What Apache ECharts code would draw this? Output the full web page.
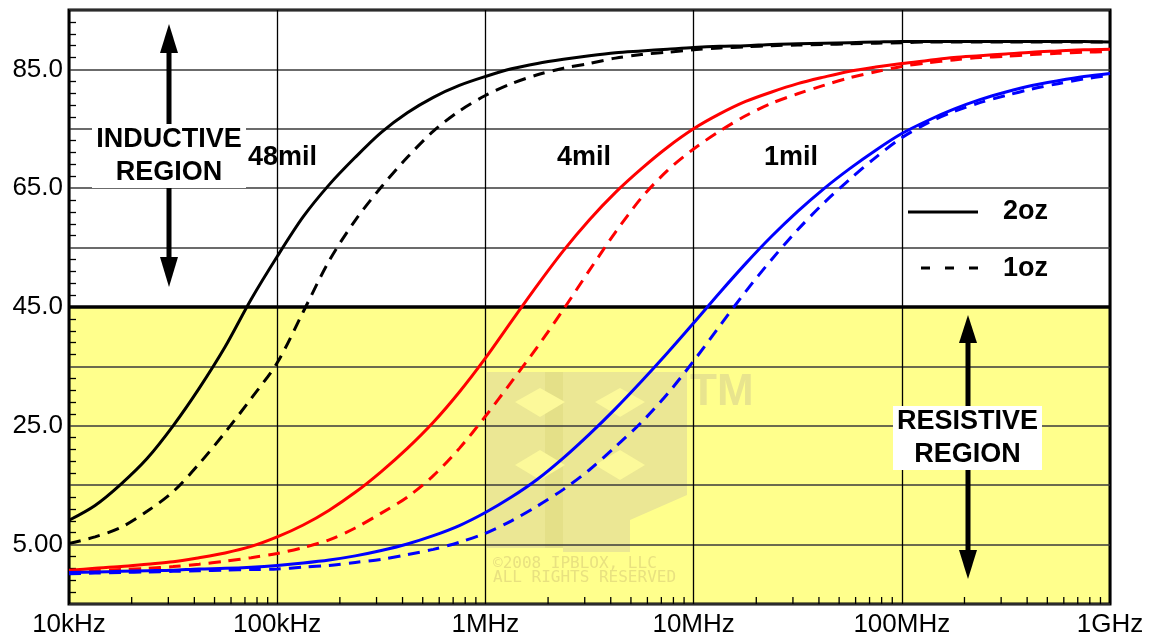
<!DOCTYPE html>
<html>
<head>
<meta charset="utf-8">
<script src="https://cdn.jsdelivr.net/npm/echarts@6/dist/echarts.min.js"></script>
<style>
  html, body { margin: 0; padding: 0; background: #fff; }
  #chart { width: 1156px; height: 640px; }
</style>
</head>
<body>
<div id="chart"></div>
<script>
// Frequency grid (Hz), eighth-decade steps, shared by every curve
const freqs = [
    1e4, 1.334e4, 1.778e4, 2.371e4, 3.162e4, 4.217e4, 5.623e4, 7.499e4,
    1e5, 1.334e5, 1.778e5, 2.371e5, 3.162e5, 4.217e5, 5.623e5, 7.499e5,
    1e6, 1.334e6, 1.778e6, 2.371e6, 3.162e6, 4.217e6, 5.623e6, 7.499e6,
    1e7, 1.334e7, 1.778e7, 2.371e7, 3.162e7, 4.217e7, 5.623e7, 7.499e7,
    1e8, 1.334e8, 1.778e8, 2.371e8, 3.162e8, 4.217e8, 5.623e8, 7.499e8,
    1e9
];

// Phase angle (deg)
const mil48_2oz = [9.1, 11.6, 15.2, 19.5, 25.0, 31.3, 38.3, 46.3,
                   53.5, 60.2, 65.6, 70.2, 74.4, 77.7, 80.3, 82.3,
                   83.8, 85.1, 86.0, 86.7, 87.3, 87.8, 88.1, 88.4,
                   88.7, 88.9, 89.0, 89.2, 89.3, 89.4, 89.5, 89.6,
                   89.7, 89.7, 89.7, 89.7, 89.7, 89.7, 89.7, 89.7,
                   89.6];
const mil48_1oz = [5.2, 6.3, 7.9, 10.6, 13.9, 18.6, 23.9, 29.6,
                   35.6, 44.2, 52.8, 59.6, 65.2, 70.2, 74.6, 78.0,
                   80.6, 82.6, 84.1, 85.2, 86.0, 86.9, 87.5, 87.9,
                   88.3, 88.6, 88.8, 89.0, 89.1, 89.2, 89.3, 89.4,
                   89.5, 89.6, 89.6, 89.6, 89.6, 89.6, 89.6, 89.6,
                   89.6];
const mil4_2oz = [0.7, 1.0, 1.3, 1.7, 2.1, 2.8, 3.6, 4.7,
                  6.3, 8.3, 10.8, 13.8, 17.3, 21.2, 25.6, 30.7,
                  36.4, 42.6, 48.7, 54.5, 59.7, 64.3, 68.3, 71.9,
                  75.0, 77.5, 79.6, 81.2, 82.6, 83.7, 84.7, 85.4,
                  86.0, 86.5, 87.0, 87.3, 87.6, 87.9, 88.1, 88.3,
                  88.4];
const mil4_1oz = [0.5, 0.6, 0.8, 1.0, 1.3, 1.7, 2.2, 2.8,
                  3.5, 4.5, 5.8, 7.8, 10.3, 13.0, 16.6, 21.2,
                  26.6, 32.4, 38.3, 44.6, 51.2, 57.6, 63.4, 68.0,
                  71.6, 74.6, 77.2, 79.3, 80.9, 82.3, 83.6, 84.6,
                  85.5, 86.1, 86.6, 87.0, 87.2, 87.5, 87.7, 87.9,
                  88.0];
const mil1_2oz = [0.3, 0.4, 0.5, 0.6, 0.7, 0.9, 1.0, 1.2,
                  1.5, 1.9, 2.4, 3.1, 4.0, 5.1, 6.5, 8.2,
                  10.4, 13.0, 16.0, 19.6, 23.6, 27.9, 32.5, 37.3,
                  42.3, 47.4, 52.3, 56.9, 61.1, 64.9, 68.3, 71.4,
                  74.2, 76.4, 78.3, 79.9, 81.2, 82.3, 83.1, 83.8,
                  84.3];
const mil1_1oz = [0.1, 0.2, 0.3, 0.4, 0.5, 0.6, 0.7, 0.8,
                  0.9, 1.2, 1.5, 2.0, 2.5, 3.3, 4.2, 5.4,
                  6.9, 9.0, 11.5, 14.3, 17.6, 21.5, 25.6, 30.4,
                  35.9, 41.8, 47.6, 53.0, 58.0, 62.5, 66.5, 70.2,
                  73.5, 76.0, 77.9, 79.4, 80.6, 81.7, 82.6, 83.4,
                  84.0];

// Axis labels
const xTickLabels = ['10kHz', '100kHz', '1MHz', '10MHz', '100MHz', '1GHz'];
const yTickValues = [5, 25, 45, 65, 85];
const yTickLabels = ['5.00', '25.0', '45.0', '65.0', '85.0'];

// minor log ticks along the bottom edge (2..9 in each decade)
const xMinorTicks = [];
for (let d = 4; d < 9; d++) {
    for (let m = 2; m <= 9; m++) xMinorTicks.push(m * Math.pow(10, d));
}

const Y_MIN = -5, Y_MAX = 95;
const FONT = '"Liberation Sans", Arial, sans-serif';

function pairs(values) {
    return freqs.map((f, i) => [f, values[i]]);
}

function curve(name, values, color, dashed) {
    return {
        name: name,
        type: 'line',
        data: pairs(values),
        showSymbol: false,
        smooth: 0.3,
        z: 5,
        lineStyle: { color: color, width: 3, type: dashed ? [12, 8] : 'solid' },
        silent: true
    };
}

// faint IPBLOX watermark + annotation graphics
const boldText = 'bold 27px ' + FONT;
const wmMain = '#ebe794', wmSide = '#e4e088', wmLight = '#fcf99a';
const graphics = [
    // watermark logo
    { type: 'rect', z: 2, shape: { x: 487, y: 372, width: 58, height: 176 }, style: { fill: wmMain } },
    { type: 'rect', z: 2, shape: { x: 545, y: 372, width: 18, height: 176 }, style: { fill: wmSide } },
    { type: 'polygon', z: 2, shape: { points: [[563, 372], [687, 372], [687, 495], [630, 520], [630, 552], [563, 552]] }, style: { fill: wmMain } },
    { type: 'polygon', z: 2, shape: { points: [[515, 402], [540, 388], [565, 402], [540, 417]] }, style: { fill: wmLight } },
    { type: 'polygon', z: 2, shape: { points: [[595, 402], [620, 388], [645, 402], [620, 417]] }, style: { fill: wmLight } },
    { type: 'polygon', z: 2, shape: { points: [[515, 465], [540, 450], [565, 465], [540, 480]] }, style: { fill: wmLight } },
    { type: 'polygon', z: 2, shape: { points: [[595, 465], [620, 450], [645, 465], [620, 480]] }, style: { fill: wmLight } },
    { type: 'text', z: 2, x: 690, y: 393, style: { text: 'TM', font: 'bold 44px ' + FONT, fill: '#e8e48e', verticalAlign: 'middle' } },
    { type: 'text', z: 2, x: 493, y: 571, style: { text: '\u00a92008 IPBLOX, LLC\nALL RIGHTS RESERVED', font: '16px "DejaVu Sans Mono", monospace', lineHeight: 14, fill: '#e8e180', verticalAlign: 'middle' } },

    // inductive region arrow + label
    { type: 'line', z: 10, shape: { x1: 169, y1: 50, x2: 169, y2: 260 }, style: { stroke: '#000', lineWidth: 5 } },
    { type: 'polygon', z: 10, shape: { points: [[160, 53], [178, 53], [169, 24]] }, style: { fill: '#000' } },
    { type: 'polygon', z: 10, shape: { points: [[160, 257], [178, 257], [169, 287]] }, style: { fill: '#000' } },
    { type: 'rect', z: 11, shape: { x: 92, y: 124, width: 154, height: 64 }, style: { fill: '#fff' } },
    { type: 'text', z: 12, x: 169, y: 156, style: { text: 'INDUCTIVE\nREGION', font: boldText, lineHeight: 33, fill: '#000', align: 'center', verticalAlign: 'middle' } },

    // resistive region arrow + label
    { type: 'line', z: 10, shape: { x1: 968, y1: 340, x2: 968, y2: 552 }, style: { stroke: '#000', lineWidth: 5 } },
    { type: 'polygon', z: 10, shape: { points: [[959, 343], [977, 343], [968, 315]] }, style: { fill: '#000' } },
    { type: 'polygon', z: 10, shape: { points: [[959, 550], [977, 550], [968, 579]] }, style: { fill: '#000' } },
    { type: 'rect', z: 11, shape: { x: 893, y: 406, width: 149, height: 64 }, style: { fill: '#fff' } },
    { type: 'text', z: 12, x: 967.5, y: 438, style: { text: 'RESISTIVE\nREGION', font: boldText, lineHeight: 33, fill: '#000', align: 'center', verticalAlign: 'middle' } },

    // curve family labels
    { type: 'text', z: 12, x: 248, y: 158, style: { text: '48mil', font: boldText, fill: '#000', verticalAlign: 'middle' } },
    { type: 'text', z: 12, x: 557, y: 158, style: { text: '4mil', font: boldText, fill: '#000', verticalAlign: 'middle' } },
    { type: 'text', z: 12, x: 764, y: 158, style: { text: '1mil', font: boldText, fill: '#000', verticalAlign: 'middle' } },

    // legend
    { type: 'line', z: 12, shape: { x1: 908, y1: 212, x2: 978, y2: 212 }, style: { stroke: '#000', lineWidth: 3 } },
    { type: 'text', z: 12, x: 1003, y: 212, style: { text: '2oz', font: boldText, fill: '#000', verticalAlign: 'middle' } },
    { type: 'line', z: 12, shape: { x1: 921, y1: 268, x2: 978, y2: 268 }, style: { stroke: '#000', lineWidth: 3, lineDash: [9, 15] } },
    { type: 'text', z: 12, x: 1003, y: 269, style: { text: '1oz', font: boldText, fill: '#000', verticalAlign: 'middle' } }
];

const chart = echarts.init(document.getElementById('chart'));

chart.setOption({
    animation: false,
    backgroundColor: '#fff',
    grid: {
        left: 69, right: 46, top: 10, bottom: 36,
        show: true, borderColor: '#000', borderWidth: 3,
        backgroundColor: 'transparent', z: 3
    },
    xAxis: {
        type: 'log',
        logBase: 10,
        min: 1e4,
        max: 1e9,
        z: 3,
        axisLine: { show: false },
        axisTick: { show: false },
        splitLine: { show: true, lineStyle: { color: '#000', width: 1.3 } },
        axisLabel: {
            color: '#000',
            fontFamily: FONT,
            fontSize: 26,
            margin: 8,
            formatter: v => xTickLabels[Math.round(Math.log10(v)) - 4] || ''
        }
    },
    yAxis: {
        type: 'value',
        min: Y_MIN,
        max: Y_MAX,
        interval: 10,
        z: 3,
        axisLine: { show: false },
        axisTick: { show: false, inside: true },
        minorTick: { show: true, splitNumber: 5, length: 7, lineStyle: { color: '#000', width: 1.3 } },
        splitLine: { show: true, lineStyle: { color: '#3a3a3a', width: 1.5 } },
        axisLabel: {
            color: '#000',
            fontFamily: FONT,
            fontSize: 26,
            margin: 6,
            formatter: v => {
                const i = yTickValues.indexOf(Math.round(v));
                return i >= 0 ? yTickLabels[i] : '';
            }
        }
    },
    graphic: graphics,
    series: [
        // yellow resistive band
        {
            name: 'band',
            type: 'line',
            data: [],
            z: 1,
            silent: true,
            markArea: {
                silent: true,
                itemStyle: { color: '#ffff8c' },
                data: [[{ yAxis: Y_MIN }, { yAxis: 45 }]]
            }
        },
        // minor ticks along the x axis + the 45 deg boundary
        {
            name: 'minor',
            type: 'custom',
            z: 4,
            silent: true,
            clip: false,
            data: xMinorTicks.map(f => [f, Y_MIN]),
            encode: { x: 0, y: 1 },
            renderItem: (params, api) => {
                const p = api.coord([api.value(0), api.value(1)]);
                return {
                    type: 'line',
                    shape: { x1: p[0], y1: p[1], x2: p[0], y2: p[1] - 7 },
                    style: { stroke: '#000', lineWidth: 1.3 }
                };
            },
            markLine: {
                silent: true,
                symbol: 'none',
                label: { show: false },
                lineStyle: { color: '#000', width: 3.5, type: 'solid' },
                data: [{ yAxis: 45 }]
            }
        },
        curve('48mil 2oz', mil48_2oz, '#000000', false),
        curve('48mil 1oz', mil48_1oz, '#000000', true),
        curve('4mil 2oz', mil4_2oz, '#ff0000', false),
        curve('4mil 1oz', mil4_1oz, '#ff0000', true),
        curve('1mil 2oz', mil1_2oz, '#0000ff', false),
        curve('1mil 1oz', mil1_1oz, '#0000ff', true)
    ]
});
</script>
</body>
</html>
